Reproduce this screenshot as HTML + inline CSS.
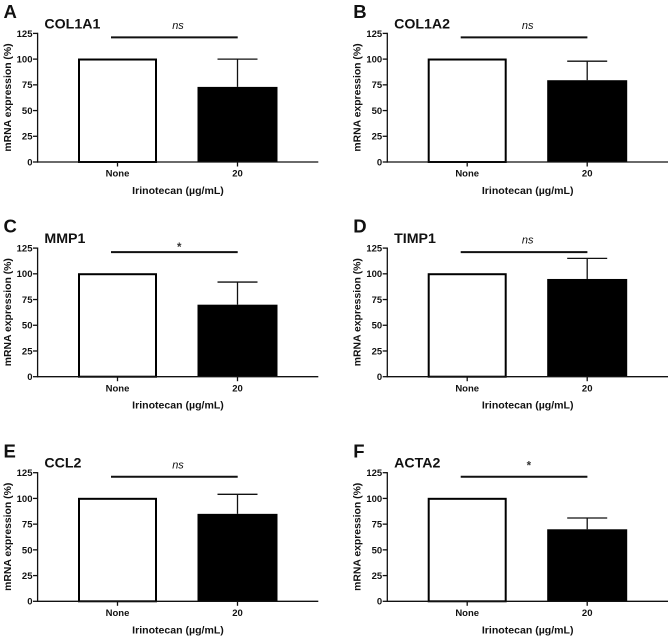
<!DOCTYPE html>
<html lang="en">
<head>
<meta charset="utf-8">
<title>Irinotecan mRNA expression panels</title>
<style>
html,body{margin:0;padding:0;background:#fff;width:668px;height:637px;overflow:hidden}
svg{display:block}
text{font-family:"Liberation Sans",sans-serif;font-weight:bold;fill:#111}
</style>
</head>
<body>
<svg id="figure" xmlns="http://www.w3.org/2000/svg" width="668" height="637" viewBox="0 0 668 637"></svg>
<script>
var panelLetters = ['A','B','C','D','E','F'];
var geneNames = ['COL1A1','COL1A2','MMP1','TIMP1','CCL2','ACTA2'];
var categories = ['None','20'];
var controlValues = [100,100,100,100,100,100];
var treatedValues = [73,79.5,70,95,85,70];
var errorTops = [100,98,92,115,104,81];
var significance = ['ns','ns','*','ns','ns','*'];
var yTicks = [0,25,50,75,100,125];
var xAxisTitle = 'Irinotecan (\u00b5g/mL)';
var yAxisTitle = 'mRNA expression (%)';

var NS = 'http://www.w3.org/2000/svg';
var svg = document.getElementById('figure');
var colOffsets = [0,349.7];
var rowOffsets = [0,214.7,439.3];

function make(parent, tag, attrs, txt){
  var el = document.createElementNS(NS, tag);
  for (var k in attrs) el.setAttribute(k, attrs[k]);
  if (txt !== undefined) el.textContent = txt;
  parent.appendChild(el);
  return el;
}
function yScale(v, oy){ return oy + 162 - v * (128.6 / 125); }
function xScale(i, ox){ return ox + 117.5 + i * 120; }

panelLetters.forEach(function(letter, p){
  var ox = colOffsets[p % 2];
  var oy = rowOffsets[Math.floor(p / 2)];
  var g = make(svg, 'g', {});
  
  

  var lab = make(g, 'text', {x: ox + 3.5, y: oy + 18, 'font-size': 18.5}, letter);
  
  

  var title = make(g, 'text', {x: ox + 44.4, y: oy + 28.3, 'font-size': 14.2}, geneNames[p]);
  
  

  // bars
  var halfW = 38.5;
  var x0 = xScale(0, ox), x1 = xScale(1, ox), base = yScale(0, oy);
  var top0 = yScale(controlValues[p], oy) + 0.4;
  var barNone = make(g, 'rect', {x: x0 - halfW, y: top0, width: halfW * 2, height: base - top0, fill: '#fff', stroke: '#000', 'stroke-width': 2});
  
  

  var top1 = yScale(treatedValues[p], oy);
  var barTreated = make(g, 'rect', {x: x1 - 40, y: top1, width: 80, height: base - top1, fill: '#000'});
  
  

  // error bar
  var errY = yScale(errorTops[p], oy);
  var errStem = make(g, 'line', {x1: x1, x2: x1, y1: errY, y2: top1, stroke: '#111', 'stroke-width': 1.3});
  
  
  var errCap = make(g, 'line', {x1: x1 - 20, x2: x1 + 20, y1: errY, y2: errY, stroke: '#111', 'stroke-width': 1.3});
  
  

  // y axis
  var yAxis = make(g, 'line', {x1: ox + 37.6, x2: ox + 37.6, y1: yScale(125, oy) - 0.6, y2: base + 0.6, stroke: '#111', 'stroke-width': 1.3});
  
  
  yTicks.forEach(function(t){
    var y = yScale(t, oy);
    var tick = make(g, 'line', {x1: ox + 33, x2: ox + 37.6, y1: y, y2: y, stroke: '#111', 'stroke-width': 1.3});
    
    
    var tl = make(g, 'text', {x: ox + 32.5, y: y + 3.4, 'font-size': 9.5, 'text-anchor': 'end'}, String(t));
    
    
  });

  // x axis
  var xAxis = make(g, 'line', {x1: ox + 37, x2: ox + 318.3, y1: base, y2: base, stroke: '#111', 'stroke-width': 1.3});
  
  
  categories.forEach(function(c, i){
    var x = xScale(i, ox);
    var tick = make(g, 'line', {x1: x, x2: x, y1: base, y2: base + 4.5, stroke: '#111', 'stroke-width': 1.3});
    
    
    var tl = make(g, 'text', {x: x, y: base + 14.7, 'font-size': 9.5, 'text-anchor': 'middle'}, c);
    
    
  });

  // axis titles
  var xt = make(g, 'text', {x: ox + 178, y: oy + 194, 'font-size': 10.55, 'text-anchor': 'middle'}, xAxisTitle);
  
  
  var ytx = ox + 10.8, yty = oy + 97.5;
  var yt = make(g, 'text', {x: ytx, y: yty, 'font-size': 10.4, 'text-anchor': 'middle', transform: 'rotate(-90 ' + ytx + ' ' + yty + ')'}, yAxisTitle);
  
  

  // significance
  var sigLine = make(g, 'line', {x1: ox + 111, x2: ox + 237.7, y1: oy + 37.4, y2: oy + 37.4, stroke: '#111', 'stroke-width': 2});
  
  
  var isNs = significance[p] === 'ns';
  var starRise = p < 4 ? 36.3 : 30;
  var sig = make(g, 'text', {
    x: ox + (isNs ? 178 : 179.2), y: oy + (isNs ? 29 : starRise),
    'font-size': isNs ? 11 : 11.5, 'text-anchor': 'middle',
    style: isNs ? 'font-style:italic;font-weight:normal' : 'fill:#333'
  }, significance[p]);
  
  
});
</script>
</body>
</html>
